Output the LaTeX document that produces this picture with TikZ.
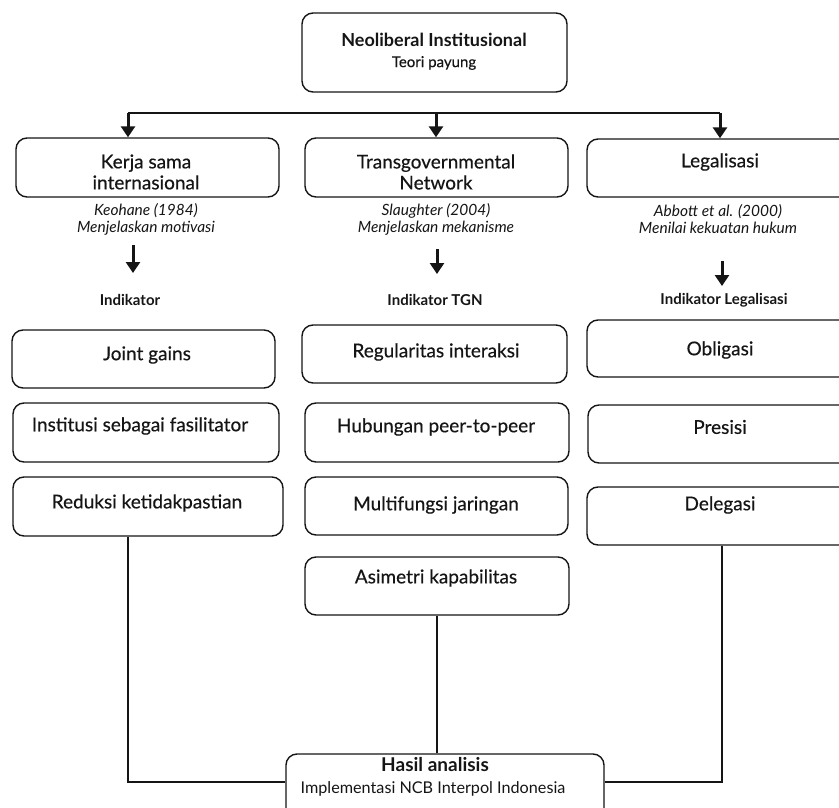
\documentclass[tikz,border=0pt]{standalone}
\usepackage{fontspec}
\setmainfont{Lato}
\newfontfamily\medfont[FakeBold=0.35]{Lato}
\usetikzlibrary{arrows.meta}
\definecolor{ink}{HTML}{151515}
\tikzset{
  box/.style={draw=ink, line width=1.4pt, rounded corners=11pt, fill=white, inner sep=0pt},
  lbl/.style={text=ink, font=\medfont\fontsize{19}{21}\selectfont, align=center, inner sep=0pt},
  ttl/.style={text=ink, font=\bfseries\fontsize{18}{20}\selectfont, align=center, inner sep=0pt},
  sub/.style={text=ink, font=\medfont\fontsize{15}{17}\selectfont, align=center, inner sep=0pt},
  cite/.style={text=ink, font=\itshape\fontsize{15.5}{17}\selectfont, align=center, inner sep=0pt},
  ind/.style={text=ink, font=\bfseries\fontsize{15}{17}\selectfont, align=center, inner sep=0pt},
  arr/.style={draw=ink, line width=3pt, -{Triangle[width=14pt,length=11pt]}},
  conn/.style={draw=ink, line width=1.4pt},
}
\begin{document}
\begin{tikzpicture}[x=1pt, y=-1pt]
\useasboundingbox (0,0) rectangle (839,808);
\clip (0,0) rectangle (839,808);
% top box
\node[box, minimum width=265, minimum height=79] (top) at (434.5,52.5) {};
\node[ttl] (topa) at (434,40) {Neoliberal Institusional};
\node[sub] (topb) at (434,63) {Teori payung};
% horizontal distribution line
\coordinate (hl) at (128,113);
\coordinate (hm) at (436,113);
\coordinate (hr) at (720,113);
\draw[conn, line width=2pt] (hl) -- (hr);
% column boxes
\node[box, minimum width=263, minimum height=59] (kerja) at (147.5,167.5) {};
\node[lbl] (kerjat) at (146,172) {Kerja sama\\internasional};
\node[box, minimum width=263, minimum height=59] (tgn) at (436.5,167.5) {};
\node[lbl] (tgnt) at (436,172) {Transgovernmental\\Network};
\node[box, minimum width=266, minimum height=58] (leg) at (720,168) {};
\node[lbl] (legt) at (720,162) {Legalisasi};
\draw[arr] (hl) -- (hl |- kerja.north) ;
\draw[arr] (hm) -- (hm |- tgn.north);
\draw[arr] (hr) -- (hr |- leg.north);
% citations
\node[cite] (kc) at (146,219) {Keohane (1984)\\Menjelaskan motivasi};
\node[cite] (tc) at (436,219) {Slaughter (2004)\\Menjelaskan mekanisme};
\node[cite] (lc) at (718,219) {Abbott et al. (2000)\\Menilai kekuatan hukum};
% arrows to indicators
\coordinate (ka) at (133,245);
\coordinate (ta) at (437,249);
\coordinate (la) at (722,261);
\node[ind] (ki) at (130,300) {Indikator};
\node[ind] (ti) at (435,300) {Indikator TGN};
\node[ind] (li) at (724,300) {Indikator Legalisasi};
\draw[arr] (ka) -- (ka |- 0,273);
\draw[arr] (ta) -- (ta |- 0,274);
\draw[arr] (la) -- (la |- 0,286);
% left items
\node[box, minimum width=263, minimum height=58] (k1) at (143.5,359) {};
\node[lbl] (k1t) at (147,355) {Joint gains};
\node[box, minimum width=266, minimum height=59] (k2) at (146,432.5) {};
\node[lbl] (k2t) at (140,426) {Institusi sebagai fasilitator};
\node[box, minimum width=270, minimum height=59] (k3) at (148,506.5) {};
\node[lbl] (k3t) at (147,503) {Reduksi ketidakpastian};
% middle items
\node[box, minimum width=265, minimum height=58] (t1) at (434.5,354) {};
\node[lbl] (t1t) at (436,352) {Regularitas interaksi};
\node[box, minimum width=264, minimum height=59] (t2) at (437,432.5) {};
\node[lbl] (t2t) at (436,427) {Hubungan peer-to-peer};
\node[box, minimum width=263, minimum height=58] (t3) at (436.5,506) {};
\node[lbl] (t3t) at (436,505) {Multifungsi jaringan};
\node[box, minimum width=264, minimum height=58] (t4) at (437,586) {};
\node[lbl] (t4t) at (436,578) {Asimetri kapabilitas};
% right items
\node[box, minimum width=266, minimum height=57] (l1) at (720,348.5) {};
\node[lbl] (l1t) at (720,350) {Obligasi};
\node[box, minimum width=265, minimum height=58] (l2) at (720.5,434) {};
\node[lbl] (l2t) at (720,427) {Presisi};
\node[box, minimum width=266, minimum height=58] (l3) at (720,516) {};
\node[lbl] (l3t) at (720,505) {Delegasi};
% result box
\node[box, minimum width=318, minimum height=66] (res) at (445,787) {};
\node[ttl, font=\bfseries\fontsize{19}{21}\selectfont] (resa) at (435,765) {Hasil analisis};
\node[sub, font=\fontsize{16.2}{18}\selectfont] (resb) at (433,789) {Implementasi NCB Interpol Indonesia};
% connectors to result
\coordinate (rl) at (128,782);
\coordinate (rr) at (722,782);
\draw[conn] (rl |- k3.south) -- (rl) -- (rl -| res.west);
\draw[conn] (t4.south -| 437,0) -- (res.north -| 437,0);
\draw[conn] (rr |- l3.south) -- (rr) -- (rr -| res.east);
\end{tikzpicture}
\end{document}
